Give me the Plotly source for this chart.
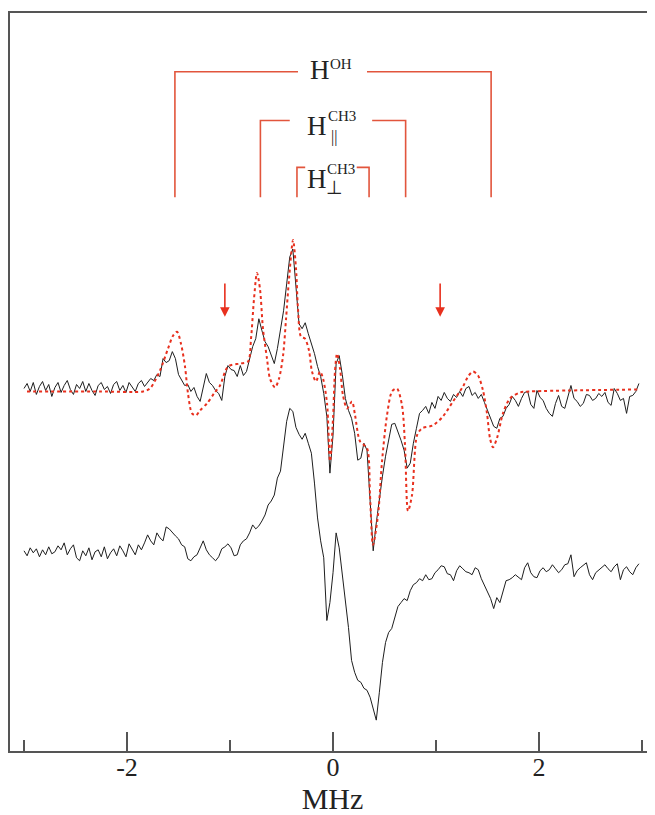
import numpy as np
import plotly.graph_objects as go

# ---------------- data ----------------
# frequency sweep (MHz) of the measured spectra
f_start, f_step, n_pts = -3.00, 0.03, 200
freq = np.round(f_start + f_step * np.arange(n_pts), 3)

# measured ENDOR spectrum, upper (a.u., relative to its baseline)
upper_exp = [
    0, 5, -3, 6, -6, 2, 7, -2, 4, -8,
    1, 6, -4, 3, 8, -1, -6, 4, 0, 7,
    -3, 5, -2, -7, 3, 6, -1, 2, -5, 4,
    7, -2, 3, -4, 6, 1, -3, 5, 8, 2,
    6, 10, 8, 14, 12, 30, 26, 28, 37, 30,
    14, 8, 3, 4, -3, 1, -8, -13, 2, 15,
    6, 3, -2, -5, -12, 12, 23, 19, 18, 12,
    23, 13, 17, 30, 42, 50, 70, 58, 47, 42,
    33, 25, 40, 60, 78, 105, 132, 140, 100, 65,
    60, 66, 55, 45, 35, 22, 12, -5, -28, -85,
    -47, 25, 33, 14, -10, -22, -30, -45, -72, -70,
    -55, -62, -110, -163, -135, -110, -88, -68, -52, -36,
    -35, -43, -52, -62, -80, -75, -55, -40, -25, -22,
    -18, -25, -14, -20, -8, -12, -4, -10, -13, -6,
    -9, -3, -8, 0, 2, -7, -4, -10, -6, -14,
    -22, -28, -38, -40, -30, -28, -20, -16, -8, -12,
    -18, -10, -4, -3, -16, -20, -2, -9, -12, -20,
    -25, -28, -15, -7, -18, -20, -8, 3, -10, -13,
    -18, -15, -6, -7, -12, -10, -5, -8, -4, -14,
    -17, 0, -5, -12, -10, -25, -8, -7, -3, 5,
]

# measured spectrum, lower (a.u., relative to its baseline)
lower_exp = [
    2, -3, 5, 0, 4, -4, 3, -2, 6, -1,
    1, 7, 3, 10, -2, 4, 8, -5, -8, 2,
    -3, 5, -7, 1, 3, -4, 6, -6, 0, 4,
    -3, 7, 2, -4, 9, 4, -2, 8, 3, 10,
    18, 12, 8, 20, 15, 12, 26, 24, 20, 17,
    14, 8, 6, -6, -8, -4, -2, 6, 12, 3,
    -2, -5, -8, -4, 4, 6, 9, 5, -3, -2,
    8, 12, 14, 20, 28, 24, 27, 32, 38, 48,
    52, 58, 75, 82, 108, 132, 145, 142, 126, 119,
    114, 120, 110, 100, 70, 35, 12, -5, -68, -50,
    -20, 20, 5, -20, -45, -75, -108, -120, -128, -130,
    -136, -138, -145, -158, -168, -140, -110, -90, -80, -76,
    -65, -54, -50, -46, -48, -38, -32, -30, -26, -28,
    -22, -27, -26, -20, -17, -13, -14, -21, -22, -28,
    -18, -13, -16, -19, -20, -22, -15, -17, -26, -33,
    -40, -46, -56, -45, -50, -38, -28, -27, -25, -22,
    -25, -27, -15, -10, -20, -24, -25, -18, -15, -19,
    -17, -12, -16, -20, -17, -12, -11, -2, -24, -18,
    -15, -12, -10, -22, -27, -20, -17, -14, -12, -16,
    -19, -14, -11, -27, -17, -14, -19, -22, -15, -11,
]

# simulated spectrum (red dotted)
sim_freq = [
    -2.971, -2.262, -1.845, -1.777, -1.680, -1.602, -1.553, -1.515, -1.476, -1.437,
    -1.408, -1.369, -1.330, -1.291, -1.223, -1.155, -1.097, -1.019, -0.903, -0.825,
    -0.796, -0.767, -0.738, -0.709, -0.680, -0.641, -0.612, -0.563, -0.524, -0.485,
    -0.456, -0.427, -0.388, -0.359, -0.340, -0.311, -0.272, -0.233, -0.204, -0.165,
    -0.126, -0.097, -0.058, -0.029, 0.000, 0.019, 0.039, 0.068, 0.097, 0.136,
    0.184, 0.214, 0.262, 0.330, 0.359, 0.388, 0.437, 0.476, 0.524, 0.573,
    0.621, 0.670, 0.699, 0.728, 0.767, 0.816, 0.864, 0.971, 1.068, 1.165,
    1.262, 1.311, 1.359, 1.408, 1.456, 1.495, 1.524, 1.553, 1.592, 1.650,
    1.718, 1.816, 1.913, 2.961,
]
sim_val = [
    -3, -3, -3, 0, 18, 40, 53, 57, 45, 22,
    -5, -25, -27, -22, -15, -5, 3, 22, 25, 27,
    50, 90, 116, 100, 60, 30, 10, 1, 10, 33,
    70, 110, 149, 120, 80, 52, 50, 38, 17, 7,
    17, 10, -15, -73, -30, 17, 35, 20, -7, -20,
    -13, -27, -53, -60, -107, -157, -127, -73, -27, -3,
    0, -17, -57, -123, -107, -47, -40, -37, -28, -13,
    2, 12, 17, 13, -2, -25, -50, -59, -50, -25,
    -10, -4, -3, -1,
]

# hyperfine couplings (MHz) marked by the stick brackets
coupling_labels = ["OH", "par", "perp"]
couplings = [3.07, 1.41, 0.70]
arrow_freqs = [-1.05, 1.04]

# ---------------- styling / placement ----------------
upper_offset = 364
lower_offset = 199
black = "#1e1e1e"
red = "#e8301e"
bracket_red = "#e2553c"
serif = "Liberation Serif, Times New Roman, serif"

fig = go.Figure()
fig.add_trace(go.Scatter(x=freq, y=np.array(lower_exp) + lower_offset, mode="lines",
                         line=dict(color=black, width=1), hoverinfo="skip"))
fig.add_trace(go.Scatter(x=freq, y=np.array(upper_exp) + upper_offset, mode="lines",
                         line=dict(color=black, width=1), hoverinfo="skip"))
fig.add_trace(go.Scatter(x=sim_freq, y=np.array(sim_val) + upper_offset, mode="lines",
                         line=dict(color=red, width=2, dash="dot", shape="spline", smoothing=0.8),
                         hoverinfo="skip"))

# brackets
tops = [682, 633, 586]
bottom = 556
gaps = [(-0.34, 0.33), (-0.42, 0.38), (-0.27, 0.23)]
for A, top, (gl, gr) in zip(couplings, tops, gaps):
    h = A / 2
    fig.add_shape(type="path",
                  path=f"M {-h} {bottom} L {-h} {top} L {gl} {top}",
                  line=dict(color=bracket_red, width=1.6), xref="x", yref="y")
    fig.add_shape(type="path",
                  path=f"M {gr} {top} L {h} {top} L {h} {bottom}",
                  line=dict(color=bracket_red, width=1.6), xref="x", yref="y")

def txt(x, y, s, size):
    fig.add_annotation(x=x, y=y, xref="x", yref="y", text=s, showarrow=False,
                       font=dict(family=serif, size=size, color="#222"),
                       xanchor="center", yanchor="middle")

# H^OH
txt(-0.131, 684, "H", 27)
txt(0.075, 690, "OH", 15)
# H_par^CH3
txt(-0.155, 628, "H", 27)
txt(0.09, 638, "CH3", 15)
txt(0.005, 616, "||", 16)
# H_perp^CH3
txt(-0.155, 574, "H", 27)
txt(0.082, 584, "CH3", 15)
txt(0.012, 566, "⊥", 19)

# arrows
for af in arrow_freqs:
    fig.add_annotation(x=af, y=436, ax=af, ay=471, xref="x", yref="y",
                       axref="x", ayref="y", text="", showarrow=True,
                       arrowhead=2, arrowsize=1.2, arrowwidth=1.6, arrowcolor=red)

# the page body has an 8 px margin, so the figure is drawn 8 px smaller
fig.update_layout(
    width=647, height=807,
    margin=dict(l=2, r=0, t=5, b=61),
    paper_bgcolor="white", plot_bgcolor="white",
    showlegend=False,
    xaxis=dict(range=[-3.136, 3.126], showgrid=False, zeroline=False,
               showline=True, linecolor="#555", linewidth=1.5, mirror=True,
               ticks="inside", ticklen=19, tickwidth=1.5, tickcolor="#555",
               tickvals=[-2, 0, 2], ticktext=["-2", "0", "2"],
               ticklabelstandoff=-8,
               tickfont=dict(family=serif, size=26, color="#222"),
               minor=dict(tickvals=[-3, -1, 1, 3], ticks="inside", ticklen=11,
                          tickwidth=1.5, tickcolor="#555"),
               title=dict(text="MHz", font=dict(family=serif, size=30, color="#222"),
                          standoff=12)),
    yaxis=dict(range=[0, 741], showgrid=False, zeroline=False, showline=True,
               linecolor="#555", linewidth=1.5, mirror=False,
               showticklabels=False, ticks=""),
)

fig.write_html("out.html")
